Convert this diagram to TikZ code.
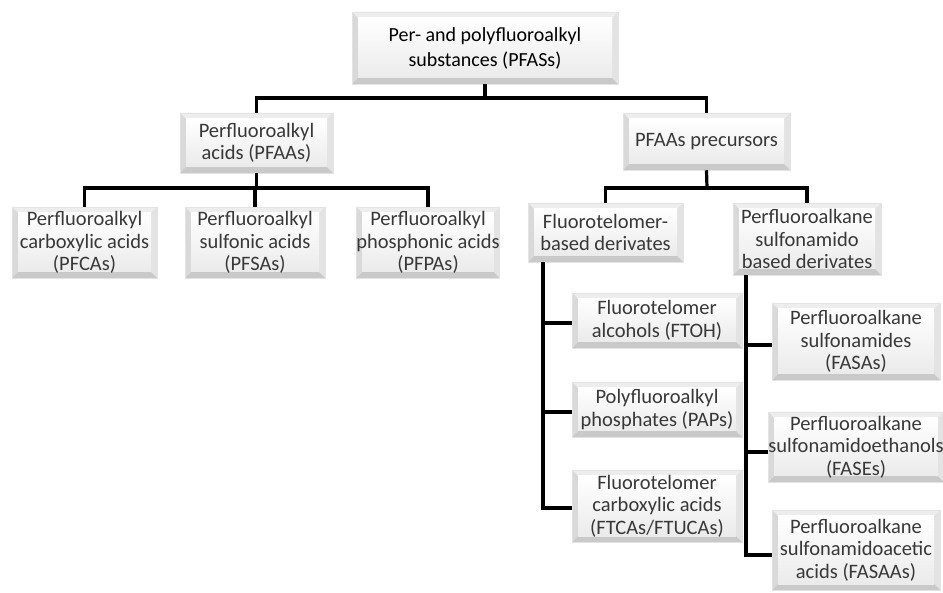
\documentclass[tikz,border=0pt]{standalone}
\usepackage{fontspec}
\setmainfont{Carlito}
\begin{document}
\begin{tikzpicture}[x=1pt,y=-1pt,
  conn/.style={line width=3.2pt, black},
  bev/.style n args={2}{rectangle, inner sep=0pt, align=center,
    minimum width=#1, minimum height=#2,
    text=black!78, font=\fontsize{20.5}{22.5}\selectfont,
    draw=gray!22, line width=0.5pt,
    path picture={
      \coordinate (bNW) at (path picture bounding box.north west);
      \coordinate (bNE) at (path picture bounding box.north east);
      \coordinate (bSW) at (path picture bounding box.south west);
      \coordinate (bSE) at (path picture bounding box.south east);
      \fill[gray!14] (bNW) -- (bNE) -- ([shift={(-6pt,-6pt)}]bNE) -- ([shift={(6pt,-6pt)}]bNW) -- cycle;
      \fill[gray!30] (bNW) -- (bSW) -- ([shift={(6pt,6pt)}]bSW) -- ([shift={(6pt,-6pt)}]bNW) -- cycle;
      \fill[gray!22] (bNE) -- (bSE) -- ([shift={(-6pt,6pt)}]bSE) -- ([shift={(-6pt,-6pt)}]bNE) -- cycle;
      \fill[gray!42] (bSW) -- (bSE) -- ([shift={(-6pt,6pt)}]bSE) -- ([shift={(6pt,6pt)}]bSW) -- cycle;
      \shade[top color=white, bottom color=gray!16] ([shift={(6pt,-6pt)}]bNW) rectangle ([shift={(-6pt,6pt)}]bSE);
    }}]
\useasboundingbox (0,0) rectangle (943,593);

% nodes
\node[bev={266pt}{72pt}, text=black, font=\fontsize{20}{25}\selectfont] (top) at (485,48) {Per- and polyfluoroalkyl\\substances (PFASs)};
\node[bev={153pt}{60pt}] (pfaa) at (256.5,143) {Perfluoroalkyl\\acids (PFAAs)};
\node[bev={167pt}{57pt}] (prec) at (706.5,141.5) {PFAAs precursors};
\node[bev={145pt}{71pt}] (pfca) at (84.5,242.5) {Perfluoroalkyl\\carboxylic acids\\(PFCAs)};
\node[bev={140pt}{71pt}] (pfsa) at (255,242.5) {Perfluoroalkyl\\sulfonic acids\\(PFSAs)};
\node[bev={142pt}{71pt}] (pfpa) at (428,242.5) {Perfluoroalkyl\\phosphonic acids\\(PFPAs)};
\node[bev={155pt}{59pt}] (ftb) at (605.5,232.5) {Fluorotelomer-\\based derivates};
\node[bev={148pt}{72pt}] (psb) at (807,239) {Perfluoroalkane\\sulfonamido\\based derivates};
\node[bev={170pt}{55pt}] (ftoh) at (657,320.5) {Fluorotelomer\\alcohols (FTOH)};
\node[bev={170pt}{55pt}] (paps) at (657,409.5) {Polyfluoroalkyl\\phosphates (PAPs)};
\node[bev={170pt}{72pt}] (ftca) at (657,506) {Fluorotelomer\\carboxylic acids\\(FTCAs/FTUCAs)};
\node[bev={168pt}{77pt}] (fasa) at (856,341.5) {Perfluoroalkane\\sulfonamides\\(FASAs)};
\node[bev={168pt}{70pt}] (fase) at (856,447) {Perfluoroalkane\\sulfonamidoethanols\\(FASEs)};
\node[bev={168pt}{80pt}] (fasaa) at (856,550) {Perfluoroalkane\\sulfonamidoacetic\\acids (FASAAs)};

% junctions
\coordinate (j1) at (485,98);
\coordinate (j2) at (256.5,188);
\coordinate (j3) at (707,188);
\coordinate (v1) at (543,262);
\coordinate (v2) at (746,275);

% connectors
\draw[conn] (top.south) -- (j1);
\draw[conn] (pfaa.north) |- (j1) -| (prec.north);
\draw[conn] (pfaa.south) -- (j2);
\draw[conn] (pfca.north) |- (j2) -| (pfpa.north);
\draw[conn] (pfsa.north) -- (pfsa.north |- j2);
\draw[conn] (prec.south) -- (j3);
\draw[conn] (ftb.north) |- (j3) -| (psb.north);
\draw[conn] (v1) |- ([yshift=-2pt]ftca.west);
\draw[conn] (v1 |- ftoh.west) ++(0,2.5) -- ([yshift=-2.5pt]ftoh.west);
\draw[conn] (v1 |- paps.west) ++(0,2.5) -- ([yshift=-2.5pt]paps.west);
\draw[conn] (v2) |- ([yshift=-5pt]fasaa.west);
\draw[conn] (v2 |- fasa.west) ++(0,3.5) -- ([yshift=-3.5pt]fasa.west);
\draw[conn] (v2 |- fase.west) ++(0,5) -- ([yshift=-5pt]fase.west);
\end{tikzpicture}
\end{document}
